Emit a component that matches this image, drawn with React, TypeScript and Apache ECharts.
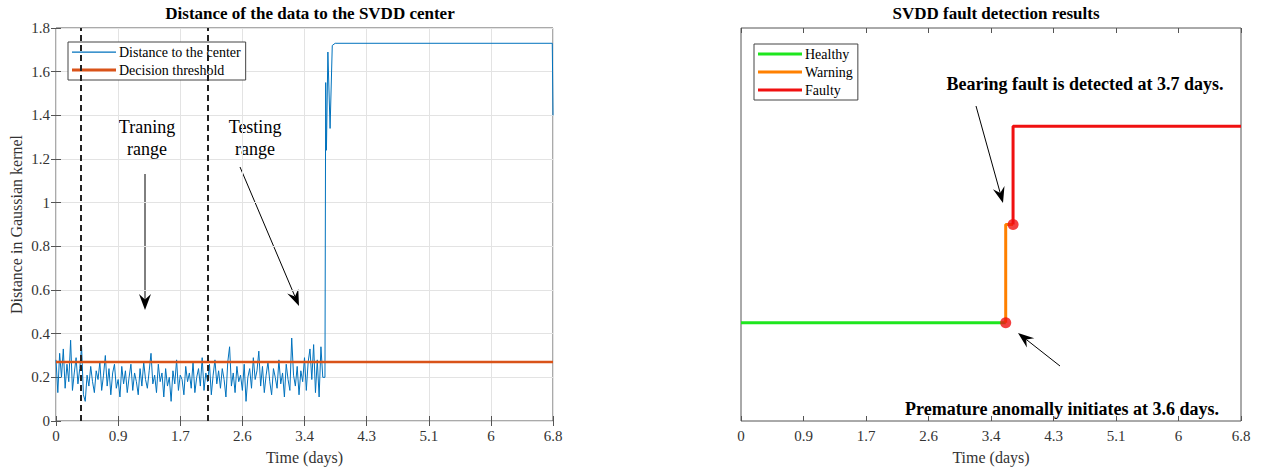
import React, { useEffect, useRef } from "react";
import * as echarts from "echarts";

// ---------- data ----------
const tickLabels = ["0", "0.9", "1.7", "2.6", "3.4", "4.3", "5.1", "6", "6.8"];
const tickStep = 0.85;
const sampleStep = 0.025;
const noiseValues = [
  0.28, 0.13, 0.31, 0.2, 0.33, 0.15, 0.26, 0.18, 0.37, 0.14,
  0.22, 0.29, 0.17, 0.24, 0.34, 0.12, 0.09, 0.21, 0.16, 0.25,
  0.18, 0.13, 0.23, 0.19, 0.27, 0.14, 0.21, 0.3, 0.16, 0.24,
  0.12, 0.22, 0.26, 0.15, 0.19, 0.11, 0.25, 0.17, 0.23, 0.13,
  0.2, 0.26, 0.14, 0.22, 0.18, 0.12, 0.24, 0.16, 0.27, 0.19,
  0.15, 0.23, 0.31, 0.17, 0.21, 0.13, 0.26, 0.18, 0.22, 0.11,
  0.24, 0.16, 0.2, 0.09, 0.23, 0.17, 0.28, 0.14, 0.21, 0.19,
  0.12, 0.25, 0.18, 0.22, 0.15, 0.27, 0.13, 0.2, 0.24, 0.16,
  0.29, 0.14, 0.22, 0.18, 0.26, 0.12, 0.21, 0.28, 0.17, 0.23,
  0.15, 0.24, 0.19, 0.11, 0.27, 0.34, 0.16, 0.22, 0.13, 0.25,
  0.18, 0.21, 0.14, 0.26, 0.09, 0.2, 0.24, 0.15, 0.29, 0.19,
  0.23, 0.32, 0.16, 0.25, 0.13, 0.21, 0.27, 0.18, 0.12, 0.24,
  0.2, 0.15, 0.28, 0.17, 0.22, 0.11, 0.26, 0.19, 0.14, 0.38,
  0.21, 0.16, 0.25, 0.12, 0.23, 0.18, 0.29, 0.14, 0.27, 0.33,
  0.19, 0.35, 0.13, 0.28, 0.11, 0.34, 0.2,
];
const faultTimes = [3.68, 3.69, 3.7, 3.72, 3.75, 3.78, 3.82, 6.79, 6.8];
const faultValues = [0.2, 1.55, 1.24, 1.69, 1.34, 1.72, 1.73, 1.73, 1.4];
const threshold = 0.27;
const rangeBoundaries = [0.34, 2.07];

const healthyPts = [[0, 1], [3.6, 1]];
const warningPts = [[3.6, 1], [3.6, 2], [3.7, 2]];
const faultyPts = [[3.7, 2], [3.7, 3], [6.8, 3]];
const eventPts = [[3.6, 1], [3.7, 2]];

const FONT = "Liberation Serif";

// legend line icons: invisible corner dots fix the box, a bar in the middle is the line
const thinIcon = "path://M0,0h0.01v0.01h-0.01z M0,6.5h44v1.2h-44z M43.99,13.99h0.01v0.01h-0.01z";
const thickIcon = "path://M0,0h0.01v0.01h-0.01z M0,5.5h44v3h-44z M43.99,13.99h0.01v0.01h-0.01z";

function arrow(x1: number, y1: number, x2: number, y2: number, head = 16, half = 6) {
  const len = Math.hypot(x2 - x1, y2 - y1);
  const ux = (x2 - x1) / len;
  const uy = (y2 - y1) / len;
  const px = -uy;
  const py = ux;
  const bx = x2 - head * ux;
  const by = y2 - head * uy;
  const nx = x2 - 0.65 * head * ux;
  const ny = y2 - 0.65 * head * uy;
  return [
    { type: "line", shape: { x1, y1, x2: nx, y2: ny }, style: { stroke: "#000", lineWidth: 1 } },
    {
      type: "polygon",
      shape: { points: [[x2, y2], [bx + half * px, by + half * py], [nx, ny], [bx - half * px, by - half * py]] },
      style: { fill: "#000" },
    },
  ];
}

export default function App() {
  const ref = useRef<HTMLDivElement>(null);
  useEffect(() => {
    document.body.style.margin = "0";
    const chart = echarts.init(ref.current!, null, { renderer: "svg" });
    const distData = noiseValues.map((v, i) => [i * sampleStep, v]);
    faultTimes.forEach((t, i) => distData.push([t, faultValues[i]]));

    const xBase = {
      type: "value",
      min: 0,
      max: 6.8,
      interval: tickStep,
      axisLine: { show: false },
      axisTick: { show: true, inside: true, length: 5, lineStyle: { color: "#555" } },
    };
    const labelStyle = { color: "#333", fontFamily: FONT, fontSize: 15 };
    const nameStyle = { color: "#333", fontFamily: FONT, fontSize: 16 };
    const fmtX = (v: number) => tickLabels[Math.round(v / tickStep)] ?? "";
    const legendBase = {
      orient: "vertical",
      itemWidth: 44,
      itemHeight: 14,
      itemGap: 4,
      padding: [3, 5, 3, 4],
      borderColor: "#444",
      borderWidth: 1,
      borderRadius: 0,
      backgroundColor: "#fff",
      textStyle: { fontFamily: FONT, fontSize: 14, color: "#000", padding: [0, 0, 0, -2] },
    };

    chart.setOption({
      animation: false,
      backgroundColor: "#fff",
      textStyle: { fontFamily: FONT },
      title: [
        {
          text: "Distance of the data to the SVDD center",
          left: 305,
          top: 0,
          textAlign: "center",
          textStyle: { fontFamily: FONT, fontSize: 17, fontWeight: "bold", color: "#000" },
        },
        {
          text: "SVDD fault detection results",
          left: 991,
          top: 0,
          textAlign: "center",
          textStyle: { fontFamily: FONT, fontSize: 17, fontWeight: "bold", color: "#000" },
        },
      ],
      legend: [
        {
          ...legendBase,
          data: [
            { name: "Distance to the center", icon: thinIcon },
            { name: "Decision threshold", icon: thickIcon },
          ],
          left: 68,
          top: 42,
        },
        {
          ...legendBase,
          data: [
            { name: "Healthy", icon: thickIcon },
            { name: "Warning", icon: thickIcon },
            { name: "Faulty", icon: thickIcon },
          ],
          left: 754,
          top: 44,
        },
      ],
      grid: [
        { left: 56, right: 710, top: 28, bottom: 49, show: true, borderColor: "#555", borderWidth: 1, backgroundColor: "transparent" },
        { left: 741, right: 22, top: 28, bottom: 49, show: true, borderColor: "#555", borderWidth: 1, backgroundColor: "transparent" },
      ],
      xAxis: [
        {
          ...xBase,
          gridIndex: 0,
          name: "Time (days)",
          nameLocation: "middle",
          nameGap: 28,
          nameTextStyle: nameStyle,
          axisLabel: { ...labelStyle, formatter: fmtX, margin: 7 },
          splitLine: { show: true, lineStyle: { color: "#e3e3e3" } },
        },
        { ...xBase, gridIndex: 0, position: "top", axisLabel: { show: false }, splitLine: { show: false } },
        {
          ...xBase,
          gridIndex: 1,
          name: "Time (days)",
          nameLocation: "middle",
          nameGap: 28,
          nameTextStyle: nameStyle,
          axisLabel: { ...labelStyle, formatter: fmtX, margin: 7 },
          splitLine: { show: false },
        },
        { ...xBase, gridIndex: 1, position: "top", axisLabel: { show: false }, splitLine: { show: false } },
      ],
      yAxis: [
        {
          type: "value",
          gridIndex: 0,
          min: 0,
          max: 1.8,
          interval: 0.2,
          name: "Distance in Gaussian kernel",
          nameLocation: "middle",
          nameGap: 32,
          nameTextStyle: nameStyle,
          axisLine: { show: false },
          axisTick: { show: true, inside: true, length: 5, lineStyle: { color: "#555" } },
          axisLabel: { ...labelStyle, margin: 6 },
          splitLine: { show: true, lineStyle: { color: "#e3e3e3" } },
        },
        {
          type: "value",
          gridIndex: 0,
          position: "right",
          min: 0,
          max: 1.8,
          interval: 0.2,
          axisLine: { show: false },
          axisTick: { show: true, inside: true, length: 5, lineStyle: { color: "#555" } },
          axisLabel: { show: false },
          splitLine: { show: false },
        },
        {
          type: "value",
          gridIndex: 1,
          min: 0,
          max: 4,
          interval: 1,
          axisLine: { show: false },
          axisTick: { show: false },
          axisLabel: { show: false },
          splitLine: { show: false },
        },
      ],
      series: [
        {
          name: "Distance to the center",
          type: "line",
          xAxisIndex: 0,
          yAxisIndex: 0,
          data: distData,
          symbol: "none",
          lineStyle: { color: "#0072BD", width: 1 },
          itemStyle: { color: "#0072BD" },
        },
        {
          name: "Decision threshold",
          type: "line",
          xAxisIndex: 0,
          yAxisIndex: 0,
          data: [[0, threshold], [6.8, threshold]],
          symbol: "none",
          lineStyle: { color: "#D95319", width: 2.5 },
          itemStyle: { color: "#D95319" },
          markLine: {
            silent: true,
            symbol: "none",
            label: { show: false },
            lineStyle: { color: "#222", width: 2, type: [6, 4] },
            data: rangeBoundaries.map((b) => ({ xAxis: b })),
          },
        },
        {
          name: "Healthy",
          type: "line",
          xAxisIndex: 2,
          yAxisIndex: 2,
          data: healthyPts,
          symbol: "none",
          lineStyle: { color: "#1EE61E", width: 3 },
          itemStyle: { color: "#1EE61E" },
        },
        {
          name: "Warning",
          type: "line",
          xAxisIndex: 2,
          yAxisIndex: 2,
          data: warningPts,
          symbol: "none",
          lineStyle: { color: "#FF8000", width: 3 },
          itemStyle: { color: "#FF8000" },
        },
        {
          name: "Faulty",
          type: "line",
          xAxisIndex: 2,
          yAxisIndex: 2,
          data: faultyPts,
          symbol: "none",
          lineStyle: { color: "#F01010", width: 3 },
          itemStyle: { color: "#F01010" },
        },
        {
          name: "events",
          type: "scatter",
          xAxisIndex: 2,
          yAxisIndex: 2,
          data: eventPts,
          symbolSize: 11,
          itemStyle: { color: "#F01010" },
          z: 5,
        },
      ],
      graphic: [
        {
          type: "text",
          x: 147,
          y: 138,
          style: { text: "Traning\nrange", fontFamily: FONT, fontSize: 18, lineHeight: 22, fill: "#000", textAlign: "center", textVerticalAlign: "middle" },
        },
        {
          type: "text",
          x: 255,
          y: 138,
          style: { text: "Testing\nrange", fontFamily: FONT, fontSize: 18, lineHeight: 22, fill: "#000", textAlign: "center", textVerticalAlign: "middle" },
        },
        ...arrow(145, 174, 145, 310),
        ...arrow(240, 167, 299, 306),
        {
          type: "text",
          x: 1085,
          y: 84,
          style: { text: "Bearing fault is detected at 3.7 days.", fontFamily: FONT, fontSize: 18, fontWeight: "bold", fill: "#000", textAlign: "center", textVerticalAlign: "middle" },
        },
        {
          type: "text",
          x: 1062,
          y: 409,
          style: { text: "Premature anomally initiates at 3.6 days.", fontFamily: FONT, fontSize: 18, fontWeight: "bold", fill: "#000", textAlign: "center", textVerticalAlign: "middle" },
        },
        ...arrow(976, 106, 1003, 203),
        ...arrow(1060, 366, 1018, 333),
      ],
    });
    return () => chart.dispose();
  }, []);
  return <div ref={ref} style={{ width: 1263, height: 470 }} />;
}
